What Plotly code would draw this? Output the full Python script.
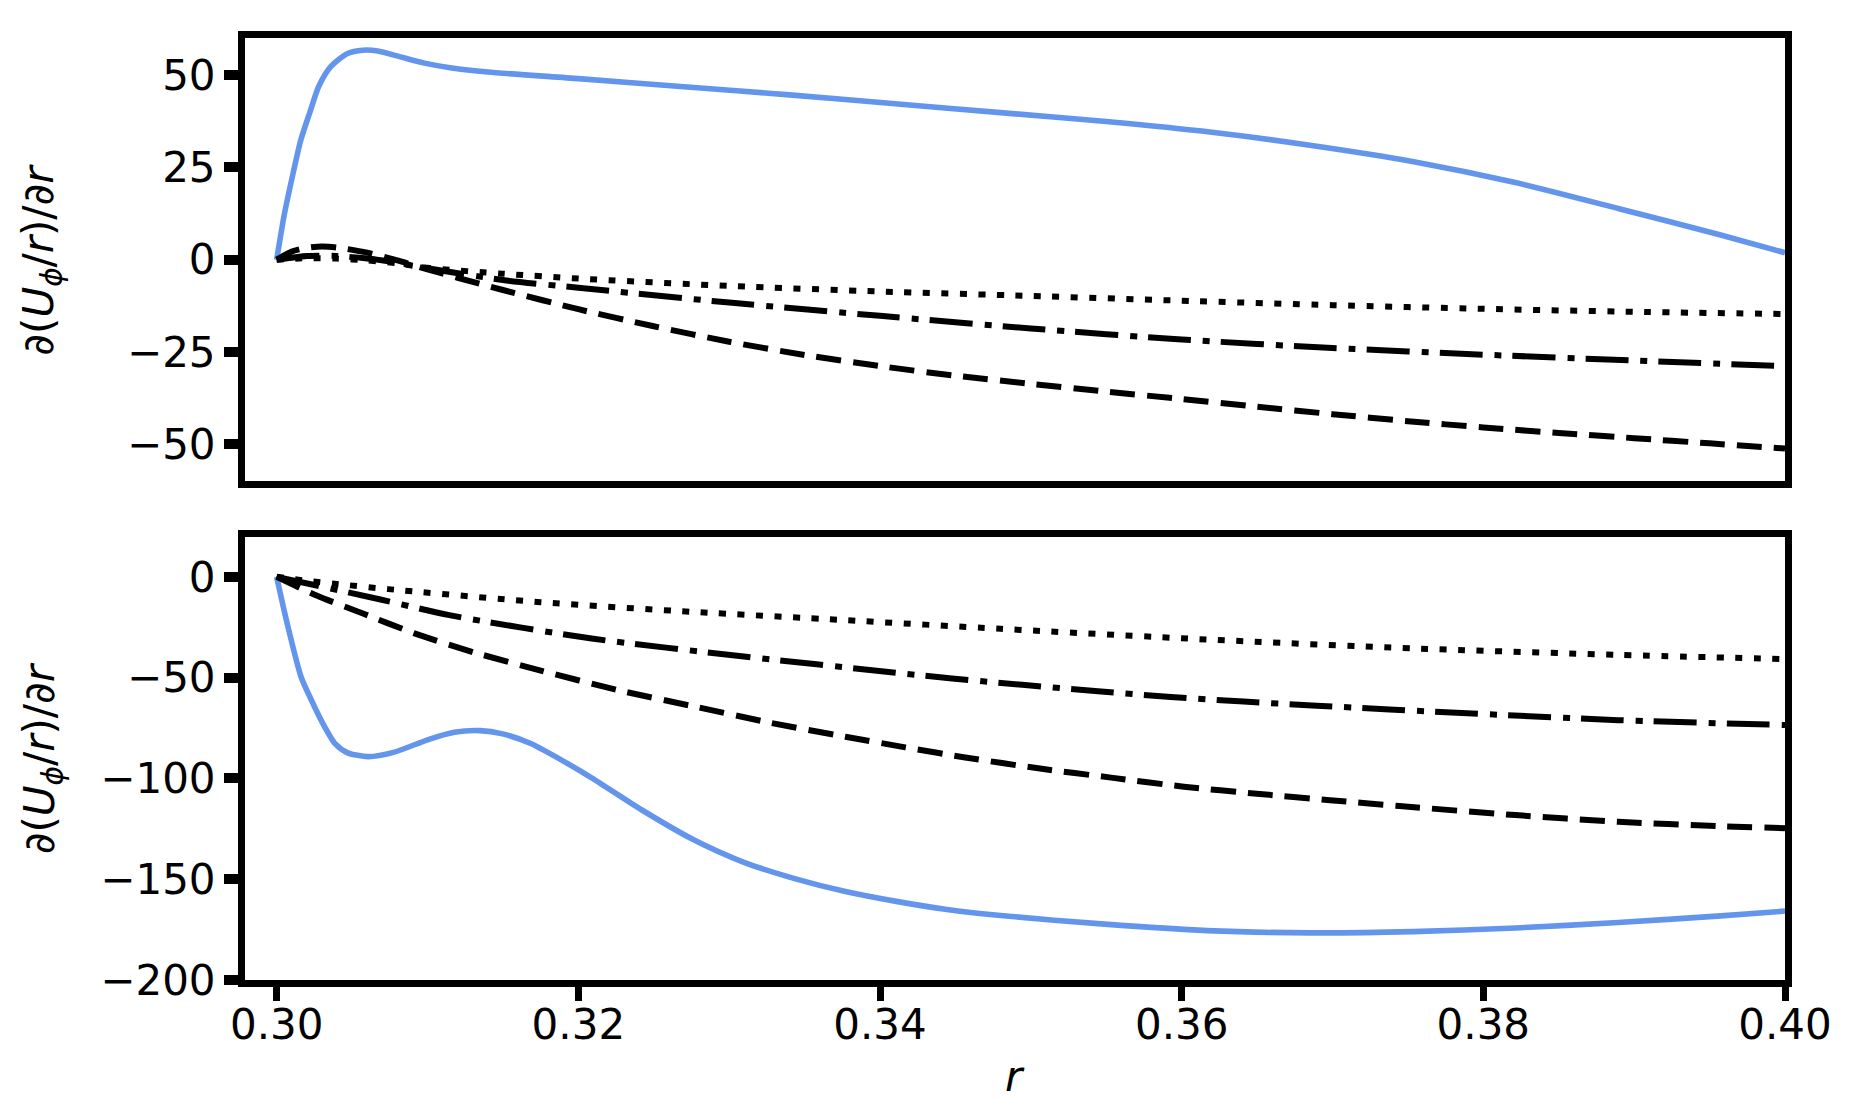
import plotly.graph_objects as go
from plotly.subplots import make_subplots

# top panel, values
r_blue_top = [0.300, 0.3005, 0.3011, 0.3016, 0.3022, 0.3028, 0.3036, 0.3047, 0.3057, 0.3067,
              0.3082, 0.3098, 0.3116, 0.314, 0.320, 0.327, 0.334, 0.341, 0.348, 0.355,
              0.362, 0.3685, 0.3753, 0.3822, 0.389, 0.3958, 0.400]
v_blue_top = [0, 12.1, 23.6, 32.4, 39.9, 47.0, 52.3, 55.8, 56.7, 56.5,
              54.9, 53.2, 51.9, 50.8, 49.0, 46.8, 44.6, 42.2, 39.8, 37.4,
              34.5, 31.0, 26.6, 20.8, 13.8, 6.6, 1.9]

r_dash_top = [0.300, 0.301, 0.302, 0.303, 0.304, 0.306, 0.308, 0.310, 0.312, 0.315, 0.320,
              0.325, 0.330, 0.335, 0.340, 0.345, 0.350, 0.355, 0.360, 0.365, 0.370,
              0.375, 0.380, 0.385, 0.390, 0.395, 0.400]
v_dash_top = [0, 2.2, 3.2, 3.6, 3.3, 1.9, -0.2, -2.6, -4.9, -8.2, -13.4,
              -18.0, -22.2, -25.8, -28.8, -31.4, -33.6, -35.7, -37.7, -39.8, -41.8,
              -43.7, -45.4, -46.9, -48.3, -49.7, -51.1]

r_dashdot_top = [0.300, 0.302, 0.304, 0.306, 0.308, 0.310, 0.315, 0.320, 0.330, 0.340,
                 0.350, 0.360, 0.370, 0.380, 0.390, 0.400]
v_dashdot_top = [0, 1.0, 1.0, 0.3, -0.8, -2.3, -5.5, -7.6, -11.6, -15.2,
                 -18.6, -21.6, -23.9, -25.7, -27.3, -28.8]

r_dot_top = [0.300, 0.302, 0.304, 0.306, 0.308, 0.310, 0.315, 0.320, 0.330, 0.340,
             0.350, 0.360, 0.370, 0.380, 0.390, 0.400]
v_dot_top = [0, 0.4, 0.3, -0.2, -1.0, -2.2, -3.8, -5.1, -7.1, -8.6,
             -9.8, -11.1, -12.3, -13.3, -14.1, -14.7]

# bottom panel
r_blue_bot = [0.300, 0.30067, 0.30162, 0.30229, 0.30303, 0.30387, 0.30471, 0.30606, 0.30774, 0.3101,
              0.31178, 0.31347, 0.31498, 0.31684, 0.31886, 0.32088, 0.32424, 0.32761, 0.33098, 0.33434,
              0.33771, 0.34108, 0.34444, 0.348, 0.35489, 0.3617, 0.36851, 0.37532, 0.38213, 0.38894,
              0.39574, 0.400]
v_blue_bot = [0, -22.3, -49.7, -61.0, -72.3, -82.7, -87.3, -89.2, -87.1, -80.6,
              -77.1, -76.3, -77.9, -82.7, -90.8, -99.7, -115.8, -130.3, -141.6, -149.7,
              -156.1, -161.0, -165.0, -168.0, -172.3, -175.5, -176.6, -176.0, -174.2, -171.5,
              -168.2, -165.8]

r_dash_bot = [0.300, 0.30269, 0.30572, 0.30909, 0.31313, 0.31751, 0.32256, 0.32761, 0.33266, 0.33771,
              0.34168, 0.34565, 0.35049, 0.35532, 0.36015, 0.36499, 0.36983, 0.37444, 0.38213, 0.38894,
              0.39574, 0.400]
v_dash_bot = [0, -9.4, -18.2, -27.9, -37.6, -46.5, -56.1, -64.2, -72.3, -79.3,
              -84.6, -89.6, -95.0, -99.6, -104.1, -107.6, -110.8, -113.7, -118.2, -121.5,
              -123.7, -124.7]

r_dashdot_bot = [0.300, 0.30673, 0.31145, 0.32088, 0.33098, 0.34108, 0.34478, 0.34961, 0.35445, 0.35928,
                 0.36411, 0.36895, 0.37378, 0.38894, 0.400]
v_dashdot_bot = [0, -11.0, -19.0, -30.6, -39.5, -47.6, -50.4, -53.7, -56.8, -59.6,
                 -61.9, -63.9, -65.8, -71.1, -73.5]

r_dot_bot = [0.300, 0.302, 0.304, 0.3074, 0.3175, 0.3276, 0.3377, 0.348, 0.3617, 0.3753, 0.3889, 0.400]
v_dot_bot = [0, -2.0, -3.6, -6.1, -12.6, -17.4, -21.5, -25.8, -31.1, -35.5, -38.7, -40.8]

x_ticks = [0.30, 0.32, 0.34, 0.36, 0.38, 0.40]
y_ticks_top = [-50, -25, 0, 25, 50]
y_ticks_bot = [-200, -150, -100, -50, 0]

blue = '#6495ED'
font = 'DejaVu Sans'
# the page body has an 8px margin, so the margins below allow for it
top_dom = [0.5293, 1.0]
bot_dom = [0.0, 0.4708]

fig = make_subplots(rows=2, cols=1)

panels = [
    (1, r_blue_top, v_blue_top, r_dash_top, v_dash_top, r_dashdot_top, v_dashdot_top, r_dot_top, v_dot_top),
    (2, r_blue_bot, v_blue_bot, r_dash_bot, v_dash_bot, r_dashdot_bot, v_dashdot_bot, r_dot_bot, v_dot_bot),
]
for row, rb, vb, rd, vd, rdd, vdd, rdt, vdt in panels:
    fig.add_trace(go.Scatter(x=rb, y=vb, mode='lines',
                             line=dict(color=blue, width=5.6, shape='spline', smoothing=0.7)), row=row, col=1)
    fig.add_trace(go.Scatter(x=rd, y=vd, mode='lines',
                             line=dict(color='black', width=6, dash='25px,12px', shape='spline', smoothing=0.7)), row=row, col=1)
    fig.add_trace(go.Scatter(x=rdd, y=vdd, mode='lines',
                             line=dict(color='black', width=6, dash='43px,12px,7px,11px', shape='spline', smoothing=0.7)), row=row, col=1)
    fig.add_trace(go.Scatter(x=rdt, y=vdt, mode='lines',
                             line=dict(color='black', width=6, dash='7px,11.5px', shape='spline', smoothing=0.7)), row=row, col=1)

axis_style = dict(showline=True, mirror=True, linecolor='black', linewidth=7,
                  showgrid=False, zeroline=False,
                  ticks='outside', ticklen=14, tickcolor='black',
                  tickfont=dict(family=font, size=42, color='black'))

fig.update_xaxes(axis_style, tickwidth=7)
fig.update_yaxes(axis_style, tickwidth=10)

fig.update_xaxes(range=[0.2979, 0.40], domain=[0, 1])
fig.update_xaxes(ticks='', showticklabels=False, row=1, col=1)
fig.update_xaxes(tickvals=x_ticks, tickformat='.2f', ticklabelstandoff=-12, row=2, col=1)
fig.update_yaxes(range=[-60, 60], tickvals=y_ticks_top, domain=top_dom, row=1, col=1)
fig.update_yaxes(range=[-200, 20], tickvals=y_ticks_bot, domain=bot_dom, row=2, col=1)

ylab = '∂(<i>U</i><sub><i>ϕ</i></sub>/<i>r</i>)/∂<i>r</i>'
annots = []
for dom in [top_dom, bot_dom]:
    annots.append(dict(x=0, y=sum(dom) / 2, xref='paper', yref='paper', text=ylab, showarrow=False,
                       textangle=-90, xanchor='center', yanchor='middle', xshift=-203,
                       font=dict(family=font, size=42, color='black')))
annots.append(dict(x=0.5, y=0, xref='paper', yref='paper', text='<i>r</i>', showarrow=False,
                   xanchor='center', yanchor='middle', yshift=-96,
                   font=dict(family=font, size=42, color='black')))

fig.update_layout(width=1855, height=1120, showlegend=False,
                  paper_bgcolor='white', plot_bgcolor='white',
                  margin=dict(l=237, r=78, t=30, b=148),
                  annotations=annots)

fig.write_html("out.html")
